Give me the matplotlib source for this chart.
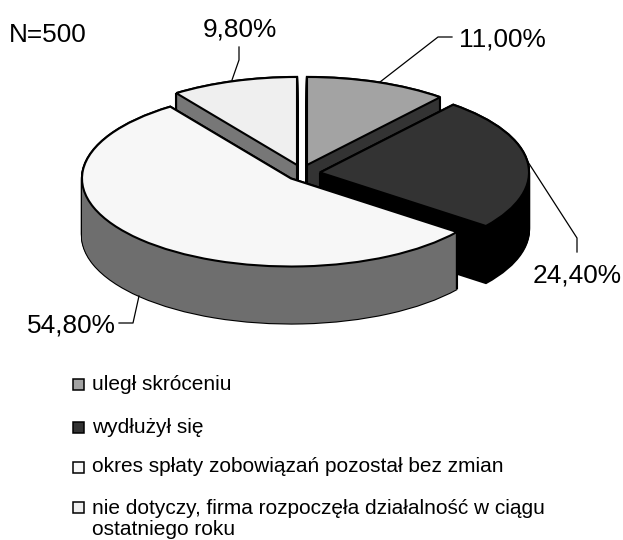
import matplotlib
matplotlib.use("Agg")
import numpy as np
import matplotlib.pyplot as plt
from matplotlib.patches import Rectangle

plt.rcParams['font.family'] = ['Liberation Sans', 'DejaVu Sans']

categories = ["uległ skróceniu", "wydłużył się",
              "okres spłaty zobowiązań pozostał bez zmian",
              "nie dotyczy, firma rozpoczęła działalność w ciągu\nostatniego roku"]
values = [11.0, 24.4, 54.8, 9.8]
value_labels = ["11,00%", "24,40%", "54,80%", "9,80%"]
note = "N=500"

# styles
top_colors = ["#a3a3a3", "#333333", "#f7f7f7", "#efefef"]
side_colors = ["#333333", "#000000", "#6e6e6e", "#777777"]
apex_px = [(307, 165), (320, 172.5), (291, 178.5), (297, 165)]
draw_order = [3, 0, 1, 2]
RX, RY, DEPTH = 209, 88, 57
W, H = 623, 540
k = RY / RX

fig = plt.figure(figsize=(W / 100, H / 100), dpi=100, facecolor="white")
ax = fig.add_axes([0, 0, 1, 1])


def y_data(py):
    return (H - py) / k


def pie_layer(colors, edge, lw, offset, zbase):
    wedges = ax.pie(values, radius=RX, startangle=90, counterclock=False, colors=colors,
                    wedgeprops=dict(edgecolor=edge, linewidth=lw))[0]
    for i, w in enumerate(wedges):
        w.set_center((apex_px[i][0], y_data(apex_px[i][1] + offset)))
        w.set_zorder(zbase + draw_order.index(i) * 10)
    return wedges


# black silhouette of the extruded body
for d in range(DEPTH + 1):
    pie_layer(["black"] * 4, "black", 1.6, d, 1)
# side colour fill
for d in range(DEPTH + 1):
    pie_layer(side_colors, "none", 0, d, 2)
# top faces and vertical wall edges
tops = pie_layer(top_colors, "black", 1.5, 0, 4)
for i, w in enumerate(tops):
    ax_x, ax_y = w.center
    z = 3 + draw_order.index(i) * 10
    xs = [ax_x] + [ax_x + RX * np.cos(np.radians(t)) for t in (w.theta1, w.theta2)]
    ys = [ax_y] + [ax_y + RX * np.sin(np.radians(t)) for t in (w.theta1, w.theta2)]
    for x, y in zip(xs, ys):
        ax.plot([x, x], [y, y - DEPTH / k], color="black", lw=1.5, zorder=z,
                solid_capstyle="butt")

ax.set_aspect("auto")
ax.set_xlim(0, W)
ax.set_ylim(0, H / k)
ax.axis("off")

# overlay in pixel units: labels, leaders, legend
ov = fig.add_axes([0, 0, 1, 1], facecolor="none")
ov.set_xlim(0, W)
ov.set_ylim(H, 0)
ov.axis("off")

ov.text(9, 42, note, fontsize=18.9, va="baseline", ha="left", color="black")
label_pos = [(459, 47), (533, 282), (27, 332), (203, 37)]
leaders = [[(380, 82), (438, 37), (452, 37)],
           [(528, 162), (577, 238), (577, 252)],
           [(139, 296), (133, 323), (119, 323)],
           [(232, 80), (239, 60), (239, 47)]]
for lab, (x, y), ld in zip(value_labels, label_pos, leaders):
    ov.text(x, y, lab, fontsize=18.9, va="baseline", ha="left", color="black")
    ov.plot(*zip(*ld), color="black", lw=0.9)

legend_base = [390, 433, 472, 535]
legend_box = [384, 427, 467, 507]
for cat, col, y, yb in zip(categories, top_colors, legend_base, legend_box):
    ov.add_patch(Rectangle((73, yb - 5.5), 11, 11, facecolor=col, edgecolor="black", lw=1.1))
    ov.text(92, y, cat, fontsize=15, va="baseline", ha="left", color="black", linespacing=1.15)

fig.savefig("out.png", dpi=100, facecolor="white")
